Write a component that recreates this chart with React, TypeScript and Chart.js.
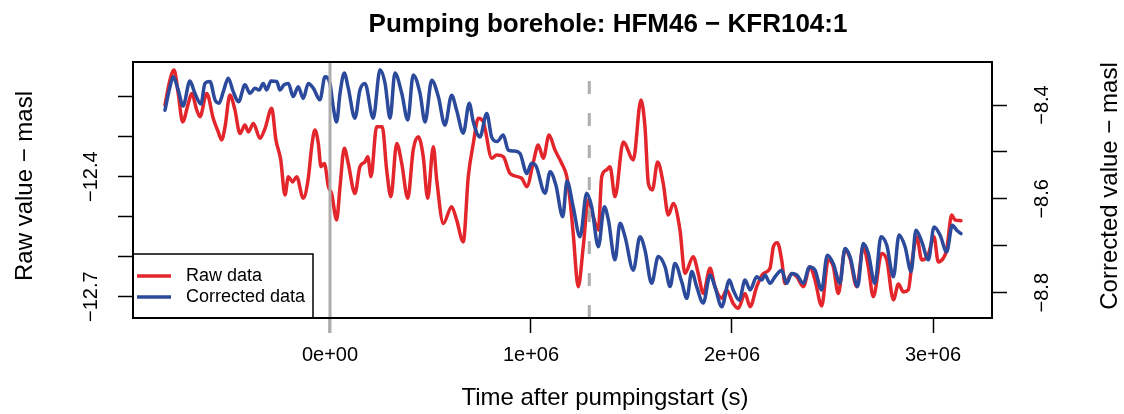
import React, { useEffect, useRef } from 'react';
import { Chart, registerables } from 'chart.js';

Chart.register(...registerables);

const FONT = '"Liberation Sans", Arial, Helvetica, sans-serif';

const chartTitle = 'Pumping borehole: HFM46 \u2212 KFR104:1';
const xAxisLabel = 'Time after pumpingstart (s)';
const rawAxisLabel = 'Raw value \u2212 masl';
const corrAxisLabel = 'Corrected value \u2212 masl';
const seriesNames = ['Raw data', 'Corrected data'];
const seriesColors = ['#E3262B', '#2B4A9B'];
const markerColor = '#ADADAD';

const xTickValues = [0, 1e6, 2e6, 3e6];
const xTickLabels = ['0e+00', '1e+06', '2e+06', '3e+06'];
const rawTickValues = [-12.7, -12.6, -12.5, -12.4, -12.3, -12.2];
const rawTickLabels = ['\u221212.7', '', '', '\u221212.4', '', ''];
const corrTickValues = [-8.8, -8.7, -8.6, -8.5, -8.4];
const corrTickLabels = ['\u22128.8', '', '\u22128.6', '', '\u22128.4'];

const xRange = [-0.98e6, 3.2935e6];
const rawRange = [-12.7533, -12.1133];
const corrRange = [-8.8539, -8.3083];

// pumping start and the second marker (s)
const markerTimes = [0, 1.29e6];

// time in units of 1e6 s
const rawTimeM = [
  -0.821, -0.796, -0.776, -0.755, -0.733, -0.705, -0.688, -0.663, -0.647, -0.613,
  -0.581, -0.556, -0.539, -0.522, -0.498, -0.473, -0.448, -0.423, -0.406, -0.381,
  -0.348, -0.323, -0.290, -0.269, -0.245, -0.224, -0.207, -0.186, -0.166, -0.133,
  -0.108, -0.091, -0.075, -0.058, -0.045, -0.028, -0.008, 0.008, 0.033, 0.050,
  0.071, 0.091, 0.124, 0.149, 0.174, 0.188, 0.204, 0.232, 0.260, 0.282,
  0.303, 0.332, 0.357, 0.387, 0.414, 0.439, 0.464, 0.486, 0.514, 0.531,
  0.564, 0.605, 0.630, 0.663, 0.688, 0.713, 0.738, 0.763, 0.805, 0.829,
  0.862, 0.896, 0.954, 0.979, 1.012, 1.036, 1.061, 1.090, 1.119, 1.153,
  1.178, 1.194, 1.210, 1.235, 1.260, 1.285, 1.310, 1.335, 1.352, 1.376,
  1.393, 1.418, 1.459, 1.509, 1.547, 1.567, 1.584, 1.604, 1.630, 1.658,
  1.683, 1.708, 1.741, 1.766, 1.807, 1.832, 1.857, 1.891, 1.915, 1.949,
  1.973, 2.006, 2.031, 2.065, 2.090, 2.123, 2.156, 2.189, 2.206, 2.226,
  2.247, 2.264, 2.297, 2.322, 2.355, 2.388, 2.413, 2.446, 2.479, 2.504,
  2.529, 2.562, 2.587, 2.620, 2.653, 2.678, 2.703, 2.745, 2.770, 2.803,
  2.828, 2.852, 2.877, 2.897, 2.919, 2.944, 2.975, 3.005, 3.026, 3.051,
  3.068, 3.093, 3.109, 3.139,
];
const rawValues = [
  -12.221, -12.158, -12.133, -12.192, -12.263, -12.217, -12.192, -12.233, -12.250, -12.192,
  -12.254, -12.288, -12.308, -12.275, -12.196, -12.233, -12.292, -12.271, -12.288, -12.267,
  -12.304, -12.279, -12.229, -12.308, -12.358, -12.446, -12.400, -12.413, -12.400, -12.454,
  -12.404, -12.325, -12.283, -12.317, -12.375, -12.367, -12.425, -12.442, -12.508, -12.425,
  -12.329, -12.367, -12.442, -12.375, -12.363, -12.350, -12.400, -12.275, -12.275, -12.383,
  -12.450, -12.317, -12.367, -12.454, -12.333, -12.300, -12.350, -12.454, -12.325, -12.408,
  -12.517, -12.475, -12.508, -12.563, -12.400, -12.317, -12.254, -12.263, -12.354, -12.346,
  -12.350, -12.392, -12.404, -12.425, -12.363, -12.321, -12.354, -12.296, -12.333, -12.367,
  -12.400, -12.458, -12.542, -12.675, -12.575, -12.458, -12.500, -12.533, -12.400, -12.383,
  -12.375, -12.450, -12.313, -12.358, -12.208, -12.275, -12.417, -12.433, -12.363, -12.417,
  -12.496, -12.467, -12.533, -12.642, -12.600, -12.642, -12.692, -12.629, -12.675, -12.704,
  -12.683, -12.717, -12.729, -12.692, -12.725, -12.675, -12.642, -12.629, -12.575, -12.565,
  -12.608, -12.667, -12.642, -12.650, -12.675, -12.625, -12.658, -12.723, -12.608, -12.625,
  -12.692, -12.583, -12.604, -12.675, -12.575, -12.625, -12.700, -12.592, -12.608, -12.708,
  -12.668, -12.688, -12.683, -12.608, -12.550, -12.608, -12.596, -12.550, -12.613, -12.604,
  -12.583, -12.496, -12.508, -12.510,
];

const corrTimeM = [
  -0.821, -0.796, -0.780, -0.755, -0.731, -0.697, -0.672, -0.642, -0.622, -0.597,
  -0.572, -0.552, -0.531, -0.506, -0.481, -0.455, -0.423, -0.398, -0.373, -0.353,
  -0.332, -0.315, -0.294, -0.265, -0.249, -0.229, -0.207, -0.183, -0.158, -0.133,
  -0.108, -0.083, -0.050, -0.025, 0.000, 0.016, 0.033, 0.050, 0.071, 0.091,
  0.124, 0.149, 0.174, 0.215, 0.249, 0.274, 0.299, 0.323, 0.357, 0.387,
  0.414, 0.448, 0.473, 0.506, 0.539, 0.572, 0.605, 0.630, 0.663, 0.693,
  0.713, 0.746, 0.780, 0.804, 0.831, 0.862, 0.887, 0.915, 0.945, 0.979,
  1.003, 1.025, 1.070, 1.095, 1.124, 1.158, 1.179, 1.210, 1.244, 1.277,
  1.302, 1.335, 1.365, 1.385, 1.418, 1.443, 1.468, 1.509, 1.542, 1.567,
  1.600, 1.633, 1.667, 1.692, 1.716, 1.750, 1.775, 1.800, 1.824, 1.857,
  1.891, 1.915, 1.949, 1.987, 2.006, 2.036, 2.065, 2.090, 2.123, 2.148,
  2.164, 2.189, 2.214, 2.247, 2.272, 2.297, 2.322, 2.355, 2.385, 2.413,
  2.446, 2.474, 2.504, 2.537, 2.562, 2.587, 2.625, 2.653, 2.678, 2.711,
  2.741, 2.770, 2.803, 2.831, 2.861, 2.891, 2.915, 2.944, 2.977, 3.005,
  3.035, 3.068, 3.096, 3.118, 3.139,
];
const corrValues = [
  -8.411, -8.361, -8.340, -8.368, -8.402, -8.349, -8.375, -8.398, -8.354, -8.350,
  -8.389, -8.396, -8.372, -8.343, -8.372, -8.393, -8.357, -8.375, -8.364, -8.368,
  -8.354, -8.368, -8.349, -8.350, -8.368, -8.357, -8.354, -8.382, -8.361, -8.386,
  -8.354, -8.364, -8.389, -8.340, -8.354, -8.404, -8.436, -8.375, -8.332, -8.364,
  -8.428, -8.368, -8.354, -8.428, -8.325, -8.354, -8.428, -8.332, -8.375, -8.432,
  -8.336, -8.375, -8.436, -8.347, -8.382, -8.443, -8.379, -8.411, -8.460, -8.396,
  -8.436, -8.468, -8.418, -8.468, -8.478, -8.464, -8.496, -8.498, -8.503, -8.546,
  -8.524, -8.530, -8.588, -8.542, -8.571, -8.638, -8.562, -8.617, -8.681, -8.588,
  -8.617, -8.702, -8.617, -8.645, -8.730, -8.652, -8.681, -8.752, -8.681, -8.709,
  -8.780, -8.723, -8.745, -8.787, -8.738, -8.777, -8.812, -8.755, -8.787, -8.822,
  -8.762, -8.787, -8.830, -8.773, -8.794, -8.816, -8.773, -8.794, -8.766, -8.773,
  -8.762, -8.780, -8.766, -8.752, -8.780, -8.759, -8.762, -8.780, -8.745, -8.752,
  -8.794, -8.720, -8.738, -8.780, -8.706, -8.723, -8.787, -8.695, -8.716, -8.780,
  -8.681, -8.699, -8.766, -8.677, -8.702, -8.755, -8.667, -8.691, -8.730, -8.660,
  -8.677, -8.713, -8.656, -8.667, -8.674,
];

const TICK_LEN = 15;

function labelFor(values: number[], labels: string[], v: number): string {
  const i = values.findIndex((a) => Math.abs(a - v) < 1e-6);
  return i >= 0 ? labels[i] : '';
}

const overlayPlugin = {
  id: 'rOverlay',
  afterDatasetsDraw(chart: any) {
    const { ctx, chartArea: ca, scales } = chart;
    const xs = scales.x;
    ctx.save();
    ctx.strokeStyle = markerColor;
    ctx.lineWidth = 3;
    ctx.lineCap = 'butt';
    const x0 = xs.getPixelForValue(markerTimes[0]);
    ctx.beginPath();
    ctx.moveTo(x0, ca.top);
    ctx.lineTo(x0, ca.bottom + TICK_LEN);
    ctx.stroke();
    const x1 = xs.getPixelForValue(markerTimes[1]);
    ctx.setLineDash([13, 19]);
    ctx.beginPath();
    ctx.moveTo(x1, ca.bottom);
    ctx.lineTo(x1, ca.top);
    ctx.stroke();
    ctx.restore();
  },
  afterDraw(chart: any) {
    const { ctx, chartArea: ca } = chart;
    ctx.save();
    // legend
    const lx = ca.left, lw = 180, lh = 64, ly = ca.bottom - lh;
    ctx.fillStyle = '#ffffff';
    ctx.fillRect(lx, ly, lw, lh);
    ctx.lineWidth = 1.5;
    ctx.strokeStyle = '#000';
    ctx.strokeRect(lx, ly, lw, lh);
    const rows = [ly + 22, ly + 43];
    seriesNames.forEach((name, i) => {
      ctx.strokeStyle = seriesColors[i];
      ctx.lineWidth = 3.5;
      ctx.beginPath();
      ctx.moveTo(lx + 4, rows[i]);
      ctx.lineTo(lx + 38, rows[i]);
      ctx.stroke();
      ctx.fillStyle = '#000';
      ctx.font = `18px ${FONT}`;
      ctx.textAlign = 'left';
      ctx.textBaseline = 'middle';
      ctx.fillText(name, lx + 53, rows[i]);
    });
    // plot box
    ctx.strokeStyle = '#000';
    ctx.lineWidth = 2;
    ctx.strokeRect(ca.left, ca.top, ca.right - ca.left, ca.bottom - ca.top);
    // title
    ctx.fillStyle = '#000';
    ctx.textBaseline = 'alphabetic';
    ctx.textAlign = 'center';
    ctx.font = `bold 26px ${FONT}`;
    ctx.fillText(chartTitle, 608, 32);
    ctx.font = `24px ${FONT}`;
    ctx.fillText(xAxisLabel, 605, 405);
    ctx.save();
    ctx.translate(31.7, 186);
    ctx.rotate(-Math.PI / 2);
    ctx.fillText(rawAxisLabel, 0, 0);
    ctx.restore();
    ctx.save();
    ctx.translate(1117, 186);
    ctx.rotate(-Math.PI / 2);
    ctx.fillText(corrAxisLabel, 0, 0);
    ctx.restore();
    ctx.restore();
  },
};

export default function App() {
  const ref = useRef<HTMLCanvasElement | null>(null);
  useEffect(() => {
    document.body.style.margin = '0';
    const canvas = ref.current;
    if (!canvas) return;
    Chart.defaults.font.family = FONT;
    const rawData = rawTimeM.map((t, i) => ({ x: t * 1e6, y: rawValues[i] }));
    const corrData = corrTimeM.map((t, i) => ({ x: t * 1e6, y: corrValues[i] }));
    const grid = {
      drawOnChartArea: false,
      drawTicks: true,
      tickLength: TICK_LEN,
      tickWidth: 1.5,
      tickColor: '#000',
    };
    const lineStyle = {
      borderWidth: 3.5,
      pointRadius: 0,
      cubicInterpolationMode: 'monotone',
      borderJoinStyle: 'round',
      borderCapStyle: 'round',
    };
    const chart = new Chart(canvas, {
      type: 'line',
      data: {
        datasets: [
          {
            label: seriesNames[0],
            data: rawData,
            yAxisID: 'y',
            borderColor: seriesColors[0],
            backgroundColor: seriesColors[0],
            order: 2,
            ...lineStyle,
          },
          {
            label: seriesNames[1],
            data: corrData,
            yAxisID: 'y1',
            borderColor: seriesColors[1],
            backgroundColor: seriesColors[1],
            order: 1,
            ...lineStyle,
          },
        ],
      },
      options: {
        animation: false,
        responsive: false,
        events: [],
        layout: { padding: { top: 62, left: 0, right: 0, bottom: 0 } },
        plugins: {
          legend: { display: false },
          title: { display: false },
          tooltip: { enabled: false },
        },
        scales: {
          x: {
            type: 'linear',
            position: 'bottom',
            min: xRange[0],
            max: xRange[1],
            afterBuildTicks: (s: any) => {
              s.ticks = xTickValues.map((v) => ({ value: v }));
            },
            afterFit: (s: any) => {
              s.height = 96;
            },
            ticks: {
              autoSkip: false,
              maxRotation: 0,
              minRotation: 0,
              padding: 10,
              color: '#000',
              font: { size: 20 },
              callback: (v: any) => labelFor(xTickValues, xTickLabels, Number(v)),
            },
            grid,
            border: { display: false },
          },
          y: {
            type: 'linear',
            position: 'left',
            min: rawRange[0],
            max: rawRange[1],
            afterBuildTicks: (s: any) => {
              s.ticks = rawTickValues.map((v) => ({ value: v }));
            },
            afterFit: (s: any) => {
              s.width = 133;
            },
            ticks: {
              autoSkip: false,
              minRotation: 90,
              maxRotation: 90,
              crossAlign: 'center',
              padding: 1,
              color: '#000',
              font: { size: 20 },
              callback: (v: any) => labelFor(rawTickValues, rawTickLabels, Number(v)),
            },
            grid,
            border: { display: false },
          },
          y1: {
            type: 'linear',
            position: 'right',
            min: corrRange[0],
            max: corrRange[1],
            afterBuildTicks: (s: any) => {
              s.ticks = corrTickValues.map((v) => ({ value: v }));
            },
            afterFit: (s: any) => {
              s.width = 132;
            },
            ticks: {
              autoSkip: false,
              minRotation: 90,
              maxRotation: 90,
              crossAlign: 'center',
              padding: 16,
              color: '#000',
              font: { size: 20 },
              callback: (v: any) => labelFor(corrTickValues, corrTickLabels, Number(v)),
            },
            grid,
            border: { display: false },
          },
        },
      } as any,
      plugins: [overlayPlugin],
    });
    return () => chart.destroy();
  }, []);
  return (
    <div style={{ position: 'absolute', left: 0, top: 0, width: 1124, height: 414, background: '#fff' }}>
      <canvas ref={ref} width={1124} height={414} style={{ display: 'block', width: 1124, height: 414 }} />
    </div>
  );
}
